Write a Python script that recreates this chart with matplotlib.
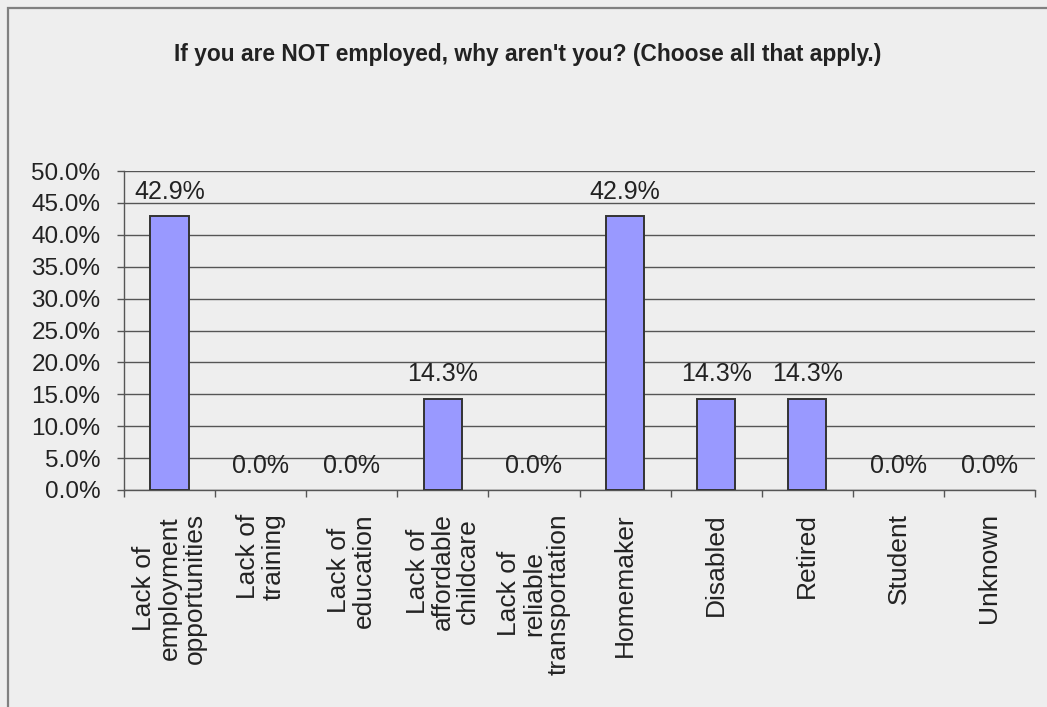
import matplotlib

matplotlib.use("Agg")
import matplotlib.pyplot as plt
from matplotlib.patches import Rectangle
from matplotlib.ticker import FixedLocator, PercentFormatter
import numpy as np

title = "If you are NOT employed, why aren't you? (Choose all that apply.)"
categories = [
    "Lack of\nemployment\nopportunities",
    "Lack of\ntraining",
    "Lack of\neducation",
    "Lack of\naffordable\nchildcare",
    "Lack of\nreliable\ntransportation",
    "Homemaker",
    "Disabled",
    "Retired",
    "Student",
    "Unknown",
]
shares = [42.9, 0.0, 0.0, 14.3, 0.0, 42.9, 14.3, 14.3, 0.0, 0.0]

BG = "#eeeeee"
BAR = "#9999ff"
INK = "#222222"
LINE = "#555555"
FONT = ["Liberation Sans", "DejaVu Sans"]

plt.rcParams["font.family"] = FONT

fig = plt.figure(figsize=(10.47, 7.07), dpi=100, facecolor=BG)
# grey frame along the top and left edge
fig.patches.append(Rectangle((8 / 1047, -0.1), 1.2, 1 - 8 / 707 + 0.1,
                             transform=fig.transFigure, facecolor="none",
                             edgecolor="#808080", linewidth=1.6))

ax = fig.add_axes([124 / 1047, 1 - 490 / 707, 911 / 1047, 319 / 707])
ax.set_facecolor(BG)

x = np.arange(len(categories))
bars = ax.bar(x, shares, width=0.42, color=BAR, edgecolor="#333333",
              linewidth=1.4, zorder=3)
# empty categories get no outline
for bar, v in zip(bars, shares):
    if v == 0:
        bar.set_linewidth(0)

for xi, v in zip(x, shares):
    ax.annotate(f"{v:.1f}%", (xi, v), xytext=(0, 12.5), textcoords="offset points",
                ha="center", va="baseline", fontsize=18, color=INK, zorder=4)

ax.set_xlim(-0.5, len(categories) - 0.5)
ax.set_ylim(0, 50)
ax.set_yticks(np.arange(0, 50.1, 5))
ax.yaxis.set_major_formatter(PercentFormatter(decimals=1))
ax.yaxis.grid(True, color=LINE, linewidth=1.0, zorder=1)

# boundary ticks between categories, labels centred on the bars
ax.xaxis.set_major_locator(FixedLocator(np.arange(-0.5, len(categories), 1.0)))
ax.xaxis.set_major_formatter(plt.NullFormatter())
ax.xaxis.set_minor_locator(FixedLocator(x))
ax.set_xticklabels(categories, minor=True, rotation=90, ha="center", va="top",
                   multialignment="center", linespacing=1.06)
ax.tick_params(axis="x", which="minor", length=0, pad=16.5, labelsize=19,
               labelcolor=INK)
ax.tick_params(axis="x", which="major", length=5, width=1, color=LINE, direction="out")
ax.tick_params(axis="y", length=5, width=1, color=LINE, direction="out", pad=12,
               labelsize=17.5, labelcolor=INK)

for side in ("top", "right"):
    ax.spines[side].set_visible(False)
for side in ("left", "bottom"):
    ax.spines[side].set_color(LINE)
    ax.spines[side].set_linewidth(1.0)

fig.text(528 / 1047, 1 - 55 / 707, title, ha="center", va="center",
         fontsize=16.4, fontweight="bold", color=INK)

fig.savefig("out.png", dpi=100, facecolor=BG)
